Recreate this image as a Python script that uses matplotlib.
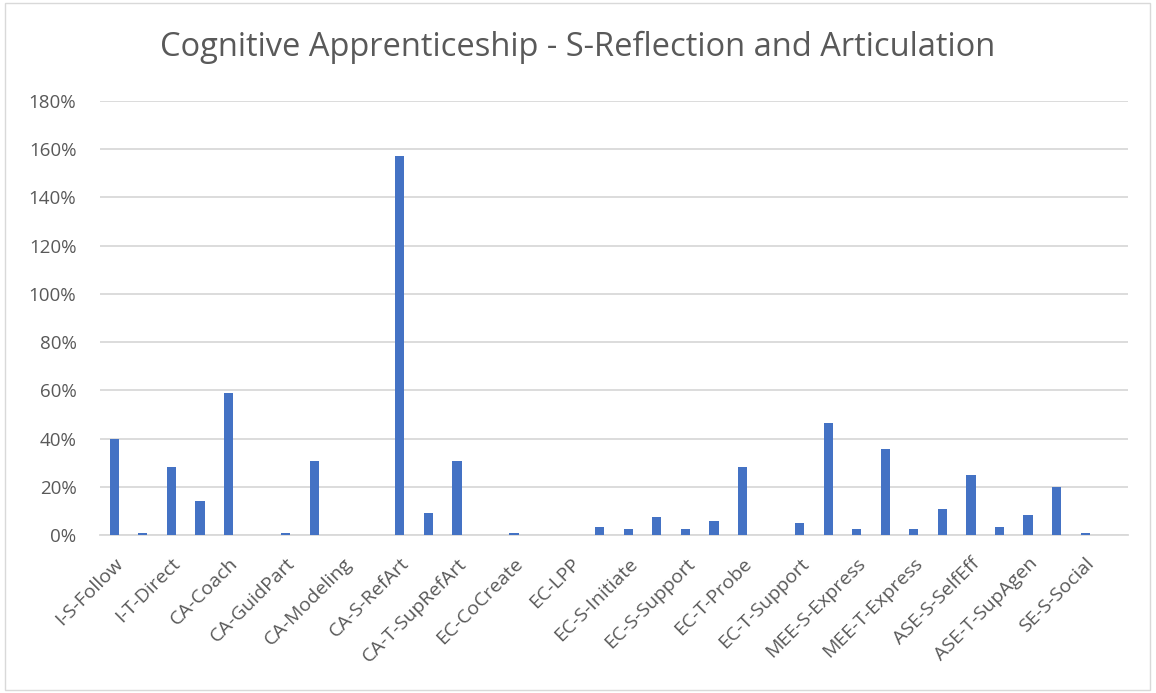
import numpy as np
import matplotlib.pyplot as plt
from matplotlib.patches import Rectangle
from matplotlib.ticker import FuncFormatter

# category codes (only every other one is labelled on the axis)
categories = [
    'I-S-Follow', 'I-S-Initiate', 'I-T-Direct', 'I-T-Facilitate',
    'CA-Coach', 'CA-Exploration', 'CA-GuidPart', 'CA-LPP',
    'CA-Modeling', 'CA-S-Explore', 'CA-S-RefArt', 'CA-Scaffold',
    'CA-T-SupRefArt', 'EC-Collab', 'EC-CoCreate', 'EC-Discuss',
    'EC-LPP', 'EC-S-Connect', 'EC-S-Initiate', 'EC-S-Probe',
    'EC-S-Support', 'EC-T-Initiate', 'EC-T-Probe', 'EC-T-Share',
    'EC-T-Support', 'MEE-S-Emotion', 'MEE-S-Express', 'MEE-T-Emotion',
    'MEE-T-Express', 'ASE-S-Agency', 'ASE-S-SelfEff', 'ASE-T-SupportSE',
    'ASE-T-SupAgen', 'SE-S-Collab', 'SE-S-Social', 'SE-T-Social',
]
# percentages
values = [
    40.0, 0.8, 28.2, 14.0, 59.0, 0.0, 0.8, 30.7,
    0.0, 0.0, 157.0, 9.0, 30.7, 0.0, 0.8, 0.0,
    0.0, 3.2, 2.4, 7.4, 2.4, 5.7, 28.2, 0.0,
    4.9, 46.5, 2.4, 35.7, 2.4, 10.7, 24.9, 3.2,
    8.2, 19.9, 0.8, 0.0,
]
title = 'Cognitive Apprenticeship - S-Reflection and Articulation'

W, H = 1156, 693
plt.rcParams['font.family'] = ['Open Sans', 'DejaVu Sans']
text_col = '#595959'
grid_col = '#d9d9d9'

fig = plt.figure(figsize=(W / 100, H / 100), dpi=100)
ax = fig.add_axes([100 / W, 1 - 535 / H, 1028 / W, 434 / H])

x = np.arange(len(categories))
ax.bar(x, values, width=0.32, color='#4472C4', zorder=3)

ax.set_xlim(-0.5, len(categories) - 0.5)
ax.set_ylim(0, 180)
ax.set_yticks(np.arange(0, 181, 20))
ax.yaxis.set_major_formatter(FuncFormatter(lambda v, p: f'{v:.0f}%'))
ax.grid(axis='y', color=grid_col, linewidth=1.3, zorder=0)

ax.set_xticks(x[::2])
ax.set_xticklabels(categories[::2], rotation=45, ha='right', va='top',
                   rotation_mode='anchor', fontsize=14)

for s in ['top', 'right', 'left']:
    ax.spines[s].set_visible(False)
ax.spines['bottom'].set_color(grid_col)
ax.spines['bottom'].set_linewidth(1.3)
ax.tick_params(axis='both', length=0, colors=text_col)
ax.tick_params(axis='y', pad=17, labelsize=13.5)
ax.tick_params(axis='x', pad=14)

fig.text(0.5, 1 - 47 / H, title, ha='center', va='center',
         fontsize=23.5, color=text_col)

# chart frame
fig.patches.append(Rectangle((5 / W, 3 / H), 1145 / W, 687 / H,
                             transform=fig.transFigure, fill=False,
                             edgecolor=grid_col, linewidth=1))

fig.savefig('out.png', dpi=100)
